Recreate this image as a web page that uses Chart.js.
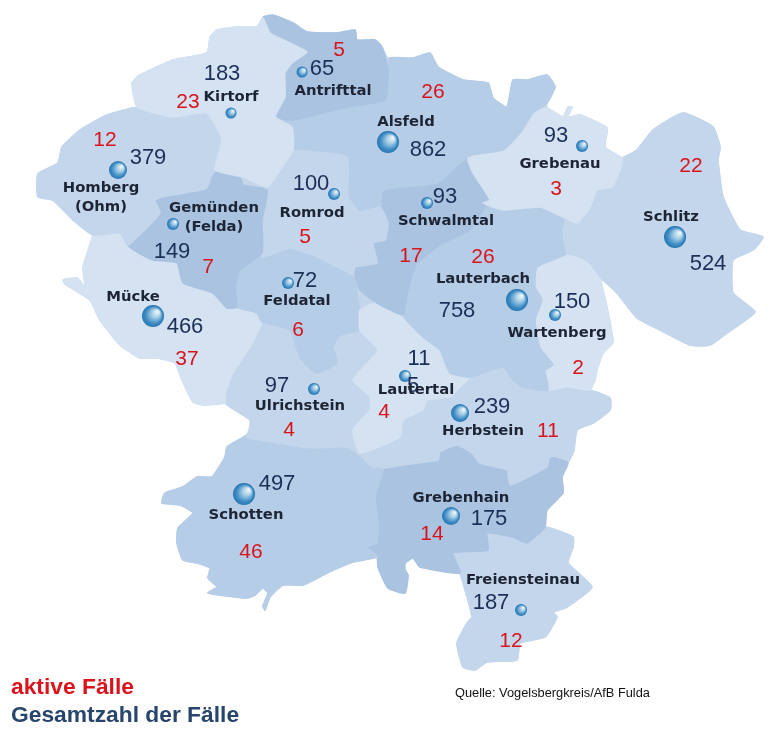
<!DOCTYPE html>
<html><head><meta charset="utf-8">
<style>html,body{margin:0;padding:0;background:#fff}canvas{display:block}</style>
<script src="https://cdn.jsdelivr.net/npm/chart.js@4/dist/chart.umd.min.js"></script>
</head><body><canvas id="c" width="780" height="734"></canvas>
<script>
// Municipality names, totals and active cases
const communes = ["Homberg (Ohm)","Kirtorf","Antrifttal","Alsfeld","Grebenau","Schlitz","Gemünden (Felda)","Romrod","Schwalmtal","Feldatal","Mücke","Lauterbach","Wartenberg","Ulrichstein","Lautertal","Herbstein","Schotten","Grebenhain","Freiensteinau"];
const totalCases = [379,183,65,862,93,524,149,100,93,72,466,758,150,97,115,239,497,175,187];
const activeCases = [12,23,5,26,3,22,7,5,17,6,37,26,2,4,4,11,46,14,12];
const sizeClass = [9,5.5,5.5,11,6,11,6,6,6,6,11,11,6,6,6,9,11,9,6];
const seatX = [118,231,302,388,582,675,173,334,427,288,153,517,555,314,405,460,244,451,521];
const seatY = [170,113,72,142,146,237,224,194,203,283,316,300,315,389,376,413,494,516,610];

// Map outlines, in the map's own coordinate system
const countyOutline = [[210,37],[217,30],[237,27],[257,27],[263,17],[273,15],[293,23],[307,32],[337,33],[355,30],[357,40],[375,40],[382,47],[388,58],[413,58],[430,53],[438,67],[463,80],[488,83],[493,98],[507,107],[513,80],[527,80],[547,75],[555,87],[547,103],[547,108],[563,117],[568,107],[572,107],[568,117],[580,115],[607,128],[605,147],[622,158],[637,150],[653,130],[683,113],[713,127],[720,147],[718,160],[723,197],[740,230],[763,237],[753,250],[733,260],[733,293],[755,312],[727,333],[710,345],[690,345],[660,330],[637,318],[617,293],[600,277],[590,263],[604,295],[613,342],[603,353],[597,370],[595,380],[590,390],[610,398],[610,410],[593,423],[577,430],[573,453],[568,463],[562,477],[563,493],[547,510],[545,527],[573,537],[573,547],[568,563],[592,587],[567,607],[553,612],[557,617],[545,637],[520,643],[517,660],[487,662],[475,670],[463,667],[457,643],[467,623],[472,617],[460,573],[420,567],[413,558],[405,563],[405,570],[408,575],[405,593],[388,588],[378,567],[378,557],[353,562],[327,573],[303,585],[283,585],[270,597],[265,610],[263,606],[268,593],[263,588],[255,595],[247,598],[208,593],[217,587],[208,578],[210,568],[197,563],[183,560],[177,543],[178,528],[193,513],[180,505],[162,503],[165,493],[183,487],[197,477],[212,477],[225,457],[227,447],[247,435],[250,427],[250,420],[230,407],[225,403],[203,405],[193,402],[182,380],[175,363],[157,358],[140,358],[120,345],[100,320],[90,300],[65,284],[63,280],[77,278],[85,287],[83,267],[93,235],[73,220],[53,200],[38,197],[38,174],[58,163],[62,147],[80,130],[107,115],[132,108],[137,107],[132,83],[140,75],[173,60],[207,53]];
const kirtorf = [[210,37],[217,30],[237,27],[257,27],[263,18],[270,33],[290,43],[307,52],[293,62],[285,73],[285,97],[275,117],[292,127],[293,150],[280,170],[267,187],[243,177],[215,170],[222,140],[207,113],[173,117],[137,107],[132,83],[140,75],[173,60],[207,53]];
const homberg = [[132,108],[173,117],[207,113],[222,140],[215,170],[208,180],[155,200],[160,213],[128,245],[120,233],[93,235],[73,220],[53,200],[38,197],[38,174],[58,163],[62,147],[80,130],[107,115]];
const gemuenden = [[215,170],[240,177],[243,185],[267,190],[262,220],[262,253],[240,270],[235,287],[237,307],[227,308],[213,293],[183,283],[177,263],[153,260],[128,245],[160,213],[155,200],[207,190]];
const romrod = [[293,150],[347,157],[348,197],[360,212],[380,207],[388,223],[385,240],[373,243],[377,263],[355,267],[353,275],[317,257],[290,248],[262,257],[262,220],[267,190],[280,170]];
const antrifttal = [[263,17],[273,15],[293,23],[307,32],[337,33],[355,30],[357,40],[375,40],[382,47],[388,70],[385,100],[347,107],[293,120],[275,117],[285,97],[285,73],[293,62],[307,52],[290,43],[270,33]];
const alsfeld = [[275,117],[293,120],[347,107],[385,100],[388,70],[390,58],[413,58],[430,53],[438,67],[463,80],[488,83],[493,98],[507,107],[513,80],[527,80],[547,75],[555,87],[547,103],[533,113],[520,133],[503,150],[470,155],[460,163],[437,183],[383,190],[380,207],[360,212],[348,197],[347,157],[293,150],[292,127]];
const grebenau = [[530,113],[547,108],[563,117],[568,107],[572,107],[568,117],[580,115],[607,128],[605,147],[622,158],[620,170],[612,187],[597,190],[590,207],[577,223],[563,217],[540,207],[503,210],[483,203],[490,200],[473,173],[468,158],[503,150],[520,133]];
const schlitz = [[622,158],[637,150],[653,130],[683,113],[713,127],[720,147],[718,160],[723,197],[740,230],[763,237],[753,250],[733,260],[733,293],[755,312],[727,333],[710,345],[690,345],[660,330],[637,318],[617,293],[600,277],[590,263],[580,257],[567,253],[563,227],[577,223],[590,207],[597,190],[612,187],[620,170]];
const schwalmtal = [[460,163],[470,155],[473,173],[490,200],[483,203],[487,203],[470,230],[443,243],[417,263],[407,293],[403,315],[377,303],[360,290],[355,275],[355,267],[377,263],[373,243],[385,240],[388,223],[380,207],[383,190],[437,183]];
const lauterbach = [[487,203],[503,210],[540,207],[563,217],[563,227],[567,253],[537,267],[535,287],[542,300],[535,320],[540,348],[553,365],[545,370],[548,390],[523,387],[513,380],[503,367],[470,377],[450,373],[440,350],[423,337],[403,315],[407,293],[417,263],[443,243],[470,230]];
const wartenberg = [[537,267],[567,253],[580,257],[590,263],[600,277],[604,295],[613,342],[603,353],[597,370],[595,380],[590,390],[567,387],[548,390],[545,370],[553,365],[540,348],[535,320],[542,300],[535,287]];
const lautertal = [[403,315],[423,337],[440,350],[450,373],[470,377],[460,387],[450,397],[427,400],[423,410],[403,420],[400,437],[360,453],[353,430],[370,410],[370,397],[353,380],[378,350],[360,330],[360,310],[377,303]];
const herbstein = [[470,377],[503,367],[513,380],[523,387],[548,390],[567,387],[590,390],[610,398],[610,410],[593,423],[577,430],[573,453],[550,457],[547,467],[510,485],[507,470],[480,463],[472,453],[457,445],[440,452],[438,460],[373,467],[360,453],[400,437],[403,420],[423,410],[427,400],[450,397],[460,387]];
const feldatal = [[262,253],[290,248],[317,257],[353,275],[358,300],[360,310],[360,330],[340,335],[333,347],[337,363],[316,373],[300,357],[290,330],[262,322],[257,313],[237,307],[235,287],[240,270]];
const muecke = [[93,235],[120,233],[128,245],[153,260],[177,263],[183,283],[213,293],[227,308],[237,307],[257,313],[262,322],[250,347],[233,373],[225,393],[225,403],[203,405],[193,402],[182,380],[175,363],[157,358],[140,358],[120,345],[100,320],[90,300],[65,284],[63,280],[77,278],[85,287],[83,267]];
const ulrichstein = [[262,322],[290,330],[300,357],[316,373],[337,363],[333,347],[340,335],[360,330],[378,350],[353,380],[370,397],[370,410],[353,430],[360,455],[347,447],[313,448],[290,445],[247,437],[250,427],[250,420],[230,407],[225,403],[225,393],[233,373],[250,347]];
const schotten = [[247,435],[290,445],[313,448],[347,447],[360,455],[373,467],[383,470],[375,497],[378,523],[377,543],[367,547],[378,557],[353,562],[327,573],[303,585],[283,585],[270,597],[265,610],[263,606],[268,593],[263,588],[255,595],[247,598],[208,593],[217,587],[208,578],[210,568],[197,563],[183,560],[177,543],[178,528],[193,513],[180,505],[162,503],[165,493],[183,487],[197,477],[212,477],[225,457],[227,447]];
const grebenhain = [[383,470],[438,460],[440,452],[457,445],[472,453],[480,463],[507,470],[510,485],[547,467],[550,457],[568,463],[562,477],[563,493],[547,510],[545,527],[527,543],[513,537],[487,533],[488,550],[453,553],[460,573],[420,567],[413,558],[405,563],[405,570],[408,575],[405,593],[388,588],[378,567],[377,557],[367,547],[375,530],[377,487]];
const freiensteinau = [[527,543],[545,527],[573,537],[573,547],[568,563],[592,587],[567,607],[553,612],[557,617],[545,637],[520,643],[517,660],[487,662],[475,670],[463,667],[457,643],[467,623],[472,617],[460,573],[453,553],[488,550],[487,533],[513,537]];

// Label lists
const totalLabels = [["379",148,158],["183",222,74],["65",322,69],["862",428,150],["93",556,136],["524",708,264],["149",172,252],["100",311,184],["93",445,197],["72",305,281],["466",185,327],["758",457,311],["150",572,302],["97",277,386],["11",419,359],["5",413,386],["239",492,407],["497",277,484],["175",489,519],["187",491,603]];
const activeLabels = [["12",105,140],["23",188,102],["5",339,50],["26",433,92],["3",556,189],["22",691,166],["7",208,267],["5",305,237],["17",411,256],["6",298,330],["37",187,359],["26",483,257],["2",578,368],["4",289,430],["4",384,412],["11",548,431],["46",251,552],["14",432,534],["12",511,641]];
const nameLabels = [["Kirtorf",231,97],["Antrifttal",333,91],["Homberg",101,188],["(Ohm)",101,207],["Gemünden",214,208],["(Felda)",214,227],["Romrod",312,213],["Feldatal",297,301],["Mücke",133,297],["Alsfeld",406,122],["Grebenau",560,164],["Schwalmtal",446,221],["Lauterbach",483,279],["Schlitz",671,217],["Wartenberg",557,333],["Ulrichstein",300,406],["Lautertal",416,390],["Herbstein",483,431],["Schotten",246,515],["Grebenhain",461,498],["Freiensteinau",523,580]];
const legendLabels = [["aktive Fälle",11,688,"#d9141c"],["Gesamtzahl der Fälle",11,716,"#28456b"]];
const sourceLabel = ["Quelle: Vogelsbergkreis/AfB Fulda",455,693];

const LIGHTEST="#d4e2f2", LIGHT="#c3d6ec", MID="#b6cde7", DARK="#a9c3e1";
const regions = [
 [kirtorf,LIGHTEST],[homberg,LIGHT],[gemuenden,DARK],[romrod,LIGHT],[antrifttal,DARK],[alsfeld,MID],[grebenau,LIGHTEST],[schlitz,LIGHT],
 [schwalmtal,DARK],[lauterbach,MID],[wartenberg,LIGHTEST],[lautertal,LIGHTEST],[herbstein,LIGHT],[feldatal,MID],[muecke,LIGHTEST],[ulrichstein,LIGHT],[schotten,MID],[grebenhain,DARK],[freiensteinau,LIGHT],[countyOutline,LIGHT]
];

const textPlugin = {
  id:"mapText",
  afterDatasetsDraw(chart){
    const {ctx,scales:{x,y}} = chart;
    const put=(t,px,py,font,color,align)=>{ctx.font=font;ctx.fillStyle=color;ctx.textAlign=align||"center";ctx.textBaseline="middle";ctx.fillText(t,x.getPixelForValue(px),y.getPixelForValue(py));};
    ctx.save();
    totalLabels.forEach(l=>put(l[0],l[1],l[2],'22px "Liberation Sans"',"#1c2f57"));
    activeLabels.forEach(l=>put(l[0],l[1],l[2],'21px "Liberation Sans"',"#d9141c"));
    nameLabels.forEach(l=>put(l[0],l[1],l[2],'bold 14.8px "DejaVu Sans"',"#1d2433"));
    legendLabels.forEach(l=>put(l[0],l[1],l[2],'bold 22.8px "Liberation Sans"',l[3],"left"));
    put(sourceLabel[0],sourceLabel[1],sourceLabel[2],'12.8px "Liberation Sans"',"#111","left");
    ctx.restore();
  }
};

new Chart(document.getElementById("c"),{
  type:"scatter",
  data:{datasets:[
    {type:"bubble",label:"Gesamtzahl der Fälle",order:0,
     data:communes.map((c,i)=>({x:seatX[i],y:seatY[i],r:sizeClass[i]})),
     borderWidth:0,
     backgroundColor(ctx){
       const c=ctx.chart.ctx,s=ctx.chart.scales,p=ctx.raw;
       if(!p||!s.x||!s.y) return "#1f70ae";
       const px=s.x.getPixelForValue(p.x),py=s.y.getPixelForValue(p.y);
       if(!isFinite(px)||!isFinite(py)) return "#1f70ae";
       const g=c.createRadialGradient(px+p.r*.45,py-p.r*.4,p.r*.05,px-p.r*.1,py+p.r*.1,p.r*1.15);
       g.addColorStop(0,"#f2f7fa");g.addColorStop(.3,"#a8cfe6");g.addColorStop(.65,"#3f8dc6");g.addColorStop(1,"#14659f");
       return g;
     }},
    ...regions.map((r,i)=>({label:"r"+i,order:i+1,showLine:true,fill:"shape",
      data:r[0].concat([r[0][0]]).map(p=>({x:p[0],y:p[1]})),
      backgroundColor:r[1],borderColor:r[1],borderWidth:1.5,pointRadius:0,tension:0.15}))
  ]},
  options:{
    responsive:false,animation:false,
    layout:{padding:0,autoPadding:false},
    plugins:{legend:{display:false},tooltip:{enabled:false}},
    scales:{
      x:{type:"linear",display:false,min:0,max:780},
      y:{type:"linear",display:false,min:0,max:734,reverse:true}
    }
  },
  plugins:[textPlugin]
});
</script></body></html>
